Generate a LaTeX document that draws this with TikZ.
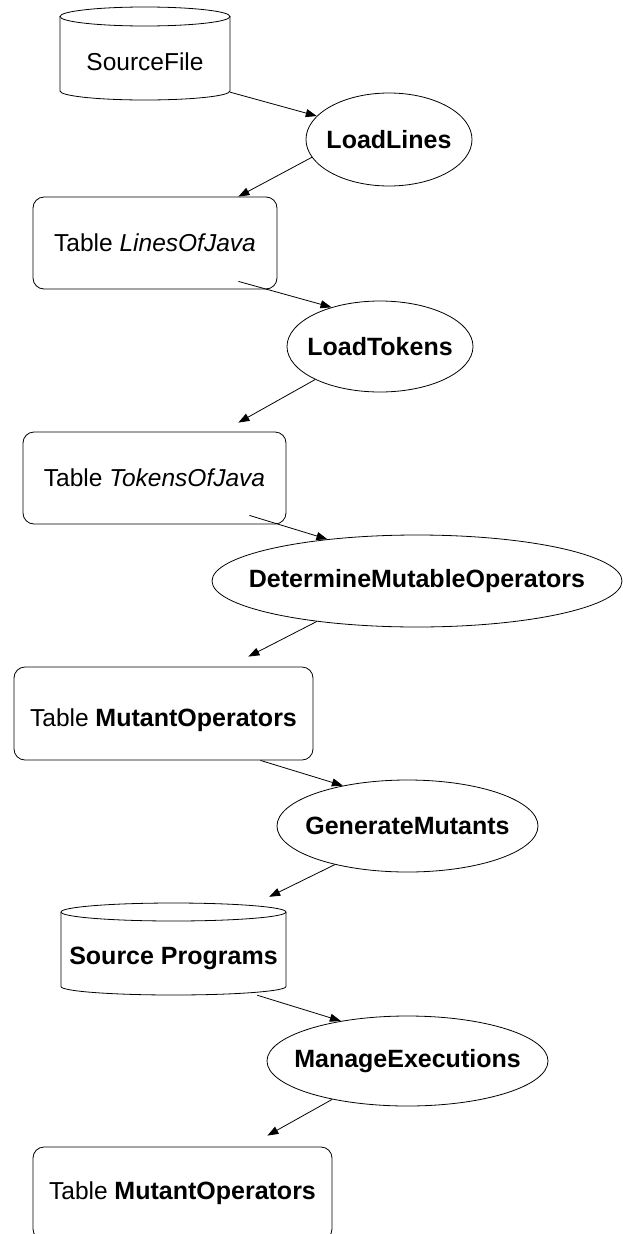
\documentclass[tikz,border=0pt]{standalone}
\usepackage{fontspec}
\setmainfont{Liberation Sans}
\usetikzlibrary{shapes.geometric,arrows.meta,calc}
\newcommand{\ctrtxt}[1]{\makebox[0pt]{#1}}
\begin{document}
\begin{tikzpicture}[x=1pt,y=-1pt,
  every node/.style={font=\fontsize{24.5}{28}\selectfont, inner sep=0pt},
  proc/.style={draw, ellipse, line width=0.8pt, font=\fontsize{25}{28}\selectfont\bfseries},
  tbl/.style={draw, rectangle, rounded corners=11pt, line width=0.8pt},
  store/.style={rectangle},
  outline/.style={line width=0.8pt},
  flow/.style={line width=0.8pt, -{Triangle[length=11pt,width=8pt]}}]
\useasboundingbox (0,0) rectangle (623,1234);
\fill[white] (0,0) rectangle (623,1234);

% SourceFile store
\node[store, minimum width=170pt, minimum height=93pt, text height=33pt, text depth=0pt] (sf) at (145,53.5) {SourceFile};
\draw[outline] (145,16.5) ellipse [x radius=85pt, y radius=9.5pt];
\draw[outline] (60,16.5) -- (60,91) arc[start angle=180, end angle=360, x radius=85pt, y radius=9pt] -- (230,16.5);

\node[proc, minimum width=166pt, minimum height=93pt] (ll) at (389,139.5) {\ctrtxt{LoadLines}};
\node[tbl, minimum width=244pt, minimum height=92pt] (loj) at (155,243) {Table \textit{LinesOfJava}};
\node[proc, minimum width=186pt, minimum height=91pt] (lt) at (380,346.5) {\ctrtxt{LoadTokens}};
\node[tbl, minimum width=263pt, minimum height=92pt] (toj) at (154.5,478) {Table \textit{TokensOfJava}};
\node[proc, minimum width=410pt, minimum height=92pt] (dmo) at (417,581) {\ctrtxt{DetermineMutableOperators}};
\node[tbl, minimum width=299pt, minimum height=93pt, text height=25pt, text depth=0pt] (mo) at (163.5,713.5) {Table {\fontsize{25}{28}\selectfont\bfseries MutantOperators}};
\node[proc, minimum width=261pt, minimum height=92pt] (gm) at (407.5,826) {\ctrtxt{GenerateMutants}};

% Source Programs store
\node[store, minimum width=225pt, minimum height=92pt, text height=30pt, text depth=0pt, font=\fontsize{25}{28}\selectfont\bfseries] (sp) at (173.5,949) {Source Programs};
\draw[outline] (173.5,912) ellipse [x radius=112.5pt, y radius=9pt];
\draw[outline] (61,912) -- (61,986.5) arc[start angle=180, end angle=360, x radius=112.5pt, y radius=8.5pt] -- (286,912);

\node[proc, minimum width=281pt, minimum height=90pt] (me) at (407.5,1061) {\ctrtxt{ManageExecutions}};
\node[tbl, minimum width=299pt, minimum height=93pt] (fin) at (182.5,1193.5) {Table {\fontsize{25}{28}\selectfont\bfseries MutantOperators}};

% connectors
\draw[flow] ($(sf.south east)+(0,-8)$) -- (ll.162);
\draw[flow] (ll.193) -- ($(loj.north east)+(-39,0)$);
\draw[flow] ($(loj.south east)+(-39,-8)$) -- (lt.141);
\draw[flow] (lt.207) -- ($(toj.north east)+(-48,-9)$);
\draw[flow] ($(toj.south east)+(-37,-9)$) -- (dmo.155);
\draw[flow] (dmo.202) -- ($(mo.north east)+(-65,-10)$);
\draw[flow] ($(mo.south east)+(-53,0)$) -- (gm.148);
\draw[flow] (gm.208) -- ($(sp.north east)+(-17,-6)$);
\draw[flow] ($(sp.south east)+(-29,0)$) -- (me.149);
\draw[flow] (me.207) -- ($(fin.north east)+(-65,-11)$);
\end{tikzpicture}
\end{document}
